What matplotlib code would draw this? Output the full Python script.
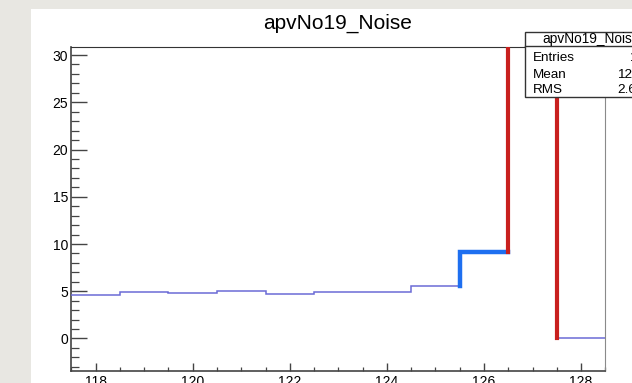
import matplotlib
matplotlib.use('Agg')
import matplotlib.pyplot as plt
from matplotlib.patches import Rectangle
from matplotlib.lines import Line2D
from matplotlib.ticker import MultipleLocator

# histogram apvNo19_Noise (zoomed on channels 118..128)
edges = [117.5, 118.5, 119.5, 120.5, 121.5, 122.5, 123.5, 124.5, 125.5, 126.5, 127.5, 128.5]
noise = [4.63, 4.90, 4.80, 4.98, 4.66, 4.87, 4.94, 5.54, 9.19, 45.0, 0.0]
stat_names = ['Entries', 'Mean', 'RMS']
stat_values = ['128', '126.5', '2.648']

plt.rcParams['font.family'] = ['Liberation Sans', 'DejaVu Sans']

W, H = 632, 383
fig = plt.figure(figsize=(W / 100, H / 100), dpi=100, facecolor='#e8e7e2')
fig.patches.append(Rectangle((31 / W, 0), 1, 1 - 9 / H, transform=fig.transFigure,
                             facecolor='white', edgecolor='none', zorder=-5))

ax = fig.add_axes([71.3 / W, 1 - 371 / H, (605.4 - 71.3) / W, (371 - 46.7) / H])
ax.set_xlim(117.5, 128.5)
ax.set_ylim(-3.44, 30.88)

ax.stairs(noise, edges, baseline=None, color='#6b6bd6', lw=1.1, zorder=3)
# highlighted steps
ax.plot([edges[8], edges[8], edges[9]], [noise[7], noise[8], noise[8]],
        color='#1e6ff0', lw=3.2, solid_joinstyle='miter', zorder=4)
ax.plot([edges[9], edges[9]], [noise[8], noise[9]], color='#c8201e', lw=3.0, zorder=4)
ax.plot([edges[10], edges[10]], [noise[9], noise[10]], color='#c8201e', lw=3.0, zorder=4)

for side in ['left', 'bottom']:
    ax.spines[side].set_color('#444444')
    ax.spines[side].set_linewidth(1.2)
ax.spines['top'].set_color('#333333')
ax.spines['right'].set_color('#8a8a8a')

ax.xaxis.set_major_locator(MultipleLocator(2))
ax.xaxis.set_minor_locator(MultipleLocator(0.5))
ax.yaxis.set_major_locator(MultipleLocator(5))
ax.yaxis.set_minor_locator(MultipleLocator(1))
ax.tick_params(axis='y', which='major', direction='in', length=11.3, width=1, color='#444444',
               labelsize=10, pad=2.2)
ax.tick_params(axis='y', which='minor', direction='in', length=6, width=0.9, color='#444444')
ax.tick_params(axis='x', which='major', direction='in', length=5.8, width=1, color='#444444',
               labelsize=10, pad=2.6)
ax.tick_params(axis='x', which='minor', direction='in', length=2.9, width=0.9, color='#444444')

fig.text(338 / W, 1 - 28.3 / H, 'apvNo19_Noise', ha='center', va='baseline', fontsize=15)

# stats box
box_l, box_t, box_b = 525 / W, 1 - 32 / H, 1 - 96.7 / H
fig.patches.append(Rectangle((box_l, box_b), 1, box_t - box_b, transform=fig.transFigure,
                             facecolor='white', edgecolor='#333333', lw=1, zorder=5))
fig.lines.append(Line2D([box_l, 1.2], [1 - 45.5 / H] * 2, transform=fig.transFigure,
                        color='#333333', lw=1, zorder=6))
fig.text(542.7 / W, 1 - 43.3 / H, 'apvNo19_Noise', ha='left', va='baseline', fontsize=9.8, zorder=7)
rows_y = [61, 78.3, 93.3]
vals_x = [629, 617, 617]
for name, val, yy, vx in zip(stat_names, stat_values, rows_y, vals_x):
    fig.text(533 / W, 1 - yy / H, name, ha='left', va='baseline', fontsize=9.7, zorder=7)
    fig.text(vx / W, 1 - yy / H, val, ha='left', va='baseline', fontsize=9.7, zorder=7)

fig.savefig('out.png', dpi=100, facecolor=fig.get_facecolor())
